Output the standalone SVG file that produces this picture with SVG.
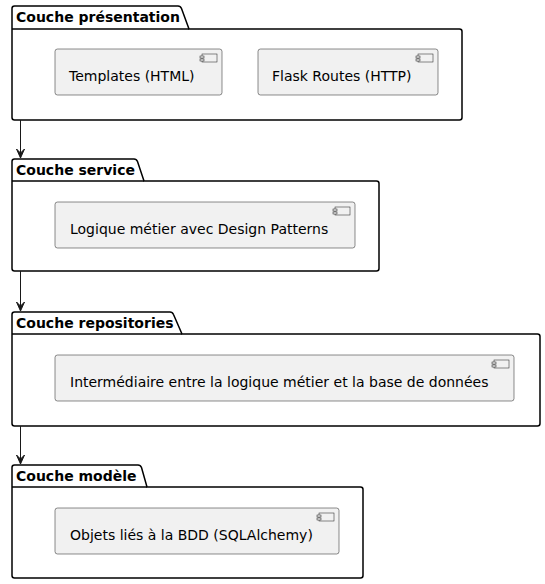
<svg xmlns="http://www.w3.org/2000/svg" width="545" height="584" viewBox="0 0 545 584">
<defs>
<style>
.pkg{fill:#FFFFFF;stroke:#000000;stroke-width:1.5}
.ptitle{font-family:"DejaVu Sans",sans-serif;font-size:14px;font-weight:bold;fill:#000000}
.comp{fill:#F1F1F1;stroke:#181818;stroke-width:0.5}
.ctext{font-family:"DejaVu Sans",sans-serif;font-size:14px;fill:#000000}
.icon{fill:#F1F1F1;stroke:#181818;stroke-width:0.5}
.link{stroke:#181818;stroke-width:1;fill:none}
</style>
<marker id="arr" markerWidth="11" markerHeight="10" refX="0" refY="0" viewBox="-10 -5 11 10" orient="auto" markerUnits="userSpaceOnUse">
<path d="M0,0 L-9,-4 L-5,0 L-9,4 Z" fill="#181818" stroke="#181818" stroke-width="1"/>
</marker>
</defs>
<rect width="545" height="584" fill="#FFFFFF"/>

<g id="pkg-presentation">
<path class="pkg" d="M14.5,6 L178,6 Q180.5,6 181.5,8.5 L189,29 L459.5,29 Q462,29 462,31.5 L462,117.5 Q462,120 459.5,120 L14.5,120 Q12,120 12,117.5 L12,8.5 Q12,6 14.5,6 Z"/>
<line class="pkg" x1="12" y1="29" x2="189" y2="29"/>
<text class="ptitle" x="16" y="22">Couche présentation</text>
</g>
<g id="comp-templates">
<rect class="comp" x="55" y="49" width="167" height="46" rx="2.5"/>
<rect class="icon" x="202" y="54" width="15" height="8"/>
<rect class="icon" x="200" y="56" width="4" height="2"/>
<rect class="icon" x="200" y="59" width="4" height="2"/>
<text class="ctext" x="69" y="81">Templates (HTML)</text>
</g>
<g id="comp-flask">
<rect class="comp" x="258" y="49" width="180" height="46" rx="2.5"/>
<rect class="icon" x="418" y="54" width="15" height="8"/>
<rect class="icon" x="416" y="56" width="4" height="2"/>
<rect class="icon" x="416" y="59" width="4" height="2"/>
<text class="ctext" x="272" y="81">Flask Routes (HTTP)</text>
</g>

<g id="pkg-service">
<path class="pkg" d="M14.5,159 L134,159 Q136.5,159 137.5,161.5 L144,181 L376.5,181 Q379,181 379,183.5 L379,268.5 Q379,271 376.5,271 L14.5,271 Q12,271 12,268.5 L12,161.5 Q12,159 14.5,159 Z"/>
<line class="pkg" x1="12" y1="181" x2="144" y2="181"/>
<text class="ptitle" x="16" y="175">Couche service</text>
</g>
<g id="comp-logique">
<rect class="comp" x="55" y="202" width="300" height="46" rx="2.5"/>
<rect class="icon" x="335" y="207" width="15" height="8"/>
<rect class="icon" x="333" y="209" width="4" height="2"/>
<rect class="icon" x="333" y="212" width="4" height="2"/>
<text class="ctext" x="70" y="234">Logique métier avec Design Patterns</text>
</g>

<g id="pkg-repositories">
<path class="pkg" d="M14.5,312 L170,312 Q172.5,312 173.5,314.5 L182,334 L537.5,334 Q540,334 540,336.5 L540,423.5 Q540,426 537.5,426 L14.5,426 Q12,426 12,423.5 L12,314.5 Q12,312 14.5,312 Z"/>
<line class="pkg" x1="12" y1="334" x2="182" y2="334"/>
<text class="ptitle" x="16" y="328">Couche repositories</text>
</g>
<g id="comp-intermediaire">
<rect class="comp" x="55" y="355" width="459" height="46" rx="2.5"/>
<rect class="icon" x="494" y="360" width="15" height="8"/>
<rect class="icon" x="492" y="362" width="4" height="2"/>
<rect class="icon" x="492" y="365" width="4" height="2"/>
<text class="ctext" x="70" y="387">Intermédiaire entre la logique métier et la base de données</text>
</g>

<g id="pkg-modele">
<path class="pkg" d="M14.5,465 L138,465 Q140.5,465 141.5,467.5 L147,487 L360.5,487 Q363,487 363,489.5 L363,575.5 Q363,578 360.5,578 L14.5,578 Q12,578 12,575.5 L12,467.5 Q12,465 14.5,465 Z"/>
<line class="pkg" x1="12" y1="487" x2="147" y2="487"/>
<text class="ptitle" x="16" y="481">Couche modèle</text>
</g>
<g id="comp-objets">
<rect class="comp" x="55" y="508" width="284" height="46" rx="2.5"/>
<rect class="icon" x="319" y="513" width="15" height="8"/>
<rect class="icon" x="317" y="515" width="4" height="2"/>
<rect class="icon" x="317" y="518" width="4" height="2"/>
<text class="ctext" x="70" y="540">Objets liés à la BDD (SQLAlchemy)</text>
</g>

<g id="connectors">
<line class="link" x1="20.5" y1="120" x2="20.5" y2="158" marker-end="url(#arr)"/>
<line class="link" x1="20.5" y1="271" x2="20.5" y2="311" marker-end="url(#arr)"/>
<line class="link" x1="20.5" y1="426" x2="20.5" y2="464" marker-end="url(#arr)"/>
</g>
</svg>
